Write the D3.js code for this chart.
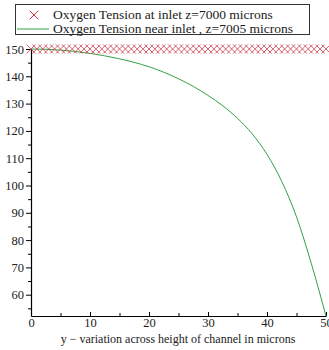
<!DOCTYPE html>
<html>
  <head>
    <meta charset="utf-8" />
    <script src="https://d3js.org/d3.v7.min.js"></script>
    <style>
      body { margin: 0; background: #fff; }
      svg { display: block; }
    </style>
  </head>
  <body>
    <svg id="chart"></svg>
    <script>
      // data
      var inletX = d3.range(0, 51, 1);
      var inletO2 = inletX.map(function () { return 150; });

      var nearX = [0, 2.5, 5, 7.5, 10, 12.5, 15, 17.5, 20, 22.5, 25, 27.5, 30, 32.5, 35, 37.5, 40, 42.5, 45, 47.5, 50];
      var nearO2 = [150, 149.9, 149.6, 149.1, 148.4, 147.5, 146.4, 145.1, 143.5, 141.5, 139.1, 136.3, 133.0, 129.2, 124.6, 118.9, 111.4, 101.5, 88.5, 71.5, 52.2];

      var xTicks = [0, 10, 20, 30, 40, 50];
      var xMinor = [5, 15, 25, 35, 45];
      var yTicks = [60, 70, 80, 90, 100, 110, 120, 130, 140, 150];
      var yMinor = [55, 65, 75, 85, 95, 105, 115, 125, 135, 145];

      var legendLabels = ["Oxygen Tension at inlet z=7000 microns", "Oxygen Tension near inlet , z=7005 microns"];
      var xTitle = "y \u2212 variation across height of channel in microns";

      var width = 329, height = 350;
      var serif = "Liberation Serif";
      var red = "#cc3b4a", green = "#35a045";

      var svg = d3.select("#chart").attr("width", width).attr("height", height)
        .attr("font-family", serif);

      var x = d3.scaleLinear().domain([0, 50]).range([31, 326]);
      var y = d3.scaleLinear().domain([52.2, 150]).range([316, 49]);

      // minor ticks first
      svg.append("g")
        .attr("transform", "translate(0,316)")
        .call(d3.axisBottom(x).tickValues(xMinor).tickSize(-3).tickFormat(""))
        .call(function (g) { g.select(".domain").remove(); });
      svg.append("g")
        .attr("transform", "translate(31,0)")
        .call(d3.axisLeft(y).tickValues(yMinor).tickSize(3).tickFormat(""))
        .call(function (g) { g.select(".domain").remove(); });

      // main axes
      var xAxis = svg.append("g")
        .attr("transform", "translate(0,316)")
        .call(d3.axisBottom(x).tickValues(xTicks).tickSize(-4).tickSizeOuter(0).tickPadding(2));
      var yAxis = svg.append("g")
        .attr("transform", "translate(31,0)")
        .call(d3.axisLeft(y).tickValues(yTicks).tickSize(5).tickSizeOuter(0).tickPadding(2));

      [xAxis, yAxis].forEach(function (g) {
        g.attr("font-family", serif).attr("font-size", 12.5);
        g.selectAll("text").attr("fill", "#222");
        g.select(".domain").attr("stroke-width", 1.2);
      });

      // axis title
      svg.append("text")
        .attr("x", 178).attr("y", 343)
        .attr("text-anchor", "middle")
        .attr("font-size", 12).attr("fill", "#222")
        .text(xTitle);

      // near inlet curve
      var line = d3.line()
        .x(function (d, i) { return x(nearX[i]); })
        .y(function (d) { return y(d); })
        .curve(d3.curveMonotoneX);
      svg.append("path")
        .datum(nearO2)
        .attr("d", line)
        .attr("fill", "none")
        .attr("stroke", green)
        .attr("stroke-width", 1);

      // inlet crosses
      var cross = d3.symbol().type(d3.symbolTimes).size(55);
      svg.append("g")
        .selectAll("path")
        .data(inletO2)
        .join("path")
        .attr("d", cross)
        .attr("transform", function (d, i) { return "translate(" + x(inletX[i]) + "," + y(d) + ")"; })
        .attr("fill", "none")
        .attr("stroke", red)
        .attr("stroke-width", 0.8);

      // legend
      var leg = svg.append("g");
      leg.append("rect")
        .attr("x", 15.5).attr("y", 4.5).attr("width", 294).attr("height", 30)
        .attr("fill", "#fff").attr("stroke", "#333").attr("stroke-width", 1);
      leg.append("path")
        .attr("d", d3.symbol().type(d3.symbolTimes).size(50))
        .attr("transform", "translate(34,15)")
        .attr("fill", "none").attr("stroke", red).attr("stroke-width", 1);
      leg.append("line")
        .attr("x1", 17).attr("x2", 49).attr("y1", 29).attr("y2", 29)
        .attr("stroke", green).attr("stroke-width", 1);
      leg.selectAll("text.lab")
        .data(legendLabels)
        .join("text")
        .attr("class", "lab")
        .attr("x", 53)
        .attr("y", function (d, i) { return 19 + i * 14; })
        .attr("font-size", 13.5).attr("fill", "#222")
        .text(function (d) { return d; });
    </script>
  </body>
</html>
